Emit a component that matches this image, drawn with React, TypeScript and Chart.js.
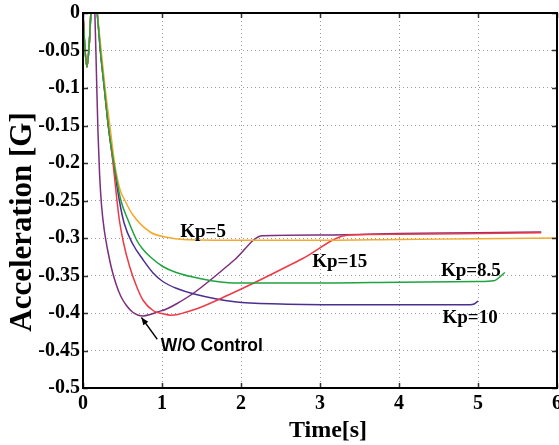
import React, { useEffect, useRef } from "react";
import { Chart, registerables } from "chart.js";

Chart.register(...registerables);

// Time [s] / Acceleration [G] series
const woControlT = [0, 0.02, 0.05, 0.08, 0.1, 0.125, 0.15, 0.17, 0.19, 0.21, 0.235, 0.27, 0.31, 0.36, 0.42, 0.48, 0.55, 0.63, 0.7, 0.76, 0.85, 0.93, 1.05, 1.18, 1.42, 1.92, 2.27, 3, 4, 5, 5.8];
const woControlA = [0, -0.04, -0.072, -0.04, 0, 0.04, 0, -0.08, -0.16, -0.215, -0.257, -0.29, -0.315, -0.34, -0.362, -0.378, -0.39, -0.399, -0.403, -0.404, -0.402, -0.399, -0.395, -0.388, -0.372, -0.329, -0.297, -0.296, -0.294, -0.293, -0.292];

const kp15T = [0, 0.02, 0.05, 0.08, 0.1, 0.14, 0.18, 0.22, 0.27, 0.32, 0.38, 0.43, 0.46, 0.51, 0.59, 0.68, 0.76, 0.89, 1.01, 1.11, 1.2, 1.3, 1.45, 1.84, 2.26, 2.77, 3.37, 4, 5, 5.8];
const kp15A = [0, -0.04, -0.072, -0.04, 0, 0.04, 0, -0.05, -0.1, -0.15, -0.2, -0.25, -0.276, -0.305, -0.338, -0.365, -0.383, -0.397, -0.401, -0.403, -0.402, -0.399, -0.394, -0.376, -0.355, -0.328, -0.296, -0.295, -0.294, -0.293];

const kp10T = [0, 0.02, 0.05, 0.08, 0.1, 0.14, 0.18, 0.22, 0.27, 0.32, 0.385, 0.46, 0.52, 0.63, 0.76, 0.89, 1.01, 1.18, 1.42, 1.92, 2.5, 3.5, 4.9, 4.95, 5.0];
const kp10A = [0, -0.04, -0.072, -0.04, 0, 0.04, 0, -0.05, -0.1, -0.15, -0.2, -0.25, -0.28, -0.308, -0.329, -0.347, -0.358, -0.367, -0.375, -0.385, -0.388, -0.389, -0.389, -0.388, -0.384];

const kp85T = [0, 0.02, 0.05, 0.08, 0.1, 0.14, 0.18, 0.22, 0.27, 0.32, 0.39, 0.48, 0.57, 0.68, 0.75, 0.85, 1.01, 1.18, 1.48, 1.92, 3, 4, 5, 5.2, 5.34];
const kp85A = [0, -0.04, -0.072, -0.04, 0, 0.04, 0, -0.05, -0.1, -0.15, -0.2, -0.25, -0.276, -0.303, -0.314, -0.325, -0.338, -0.346, -0.354, -0.36, -0.36, -0.359, -0.358, -0.357, -0.346];

const kp5T = [0, 0.02, 0.05, 0.08, 0.1, 0.14, 0.18, 0.23, 0.28, 0.34, 0.4, 0.47, 0.53, 0.63, 0.85, 1.06, 1.27, 2, 3, 4, 5, 6];
const kp5A = [0, -0.04, -0.072, -0.04, 0, 0.04, 0, -0.05, -0.1, -0.15, -0.2, -0.236, -0.25, -0.269, -0.292, -0.299, -0.302, -0.303, -0.303, -0.302, -0.301, -0.3];

const xTickValues = [0, 1, 2, 3, 4, 5, 6];
const yTickValues = [0, -0.05, -0.1, -0.15, -0.2, -0.25, -0.3, -0.35, -0.4, -0.45, -0.5];

const seriesNames = ["Kp=5", "Kp=8.5", "Kp=10", "Kp=15", "W/O Control"];

const toPoints = (t: number[], a: number[]) => t.map((x, i) => ({ x, y: a[i] }));

const SERIF = '"Liberation Serif", "Times New Roman", serif';
const SANS = '"Liberation Sans", Arial, sans-serif';

const overlayPlugin = {
  id: "overlay",
  afterDraw(chart: any) {
    const { ctx, chartArea: ca, scales } = chart;
    const xs = scales.x;
    const ys = scales.y;
    ctx.save();
    // inward tick marks on all four sides
    ctx.strokeStyle = "#333";
    ctx.lineWidth = 1.5;
    const tl = 5;
    xTickValues.forEach((v) => {
      const px = Math.round(xs.getPixelForValue(v)) + 0.5;
      ctx.beginPath();
      ctx.moveTo(px, ca.bottom);
      ctx.lineTo(px, ca.bottom - tl);
      ctx.moveTo(px, ca.top);
      ctx.lineTo(px, ca.top + tl);
      ctx.stroke();
    });
    yTickValues.forEach((v) => {
      const py = Math.round(ys.getPixelForValue(v)) + 0.5;
      ctx.beginPath();
      ctx.moveTo(ca.left, py);
      ctx.lineTo(ca.left + tl, py);
      ctx.moveTo(ca.right, py);
      ctx.lineTo(ca.right - tl, py);
      ctx.stroke();
    });
    // box
    ctx.strokeStyle = "#000";
    ctx.lineWidth = 2;
    ctx.strokeRect(ca.left, ca.top, ca.right - ca.left, ca.bottom - ca.top);

    // series annotations
    ctx.fillStyle = "#000";
    ctx.textAlign = "center";
    ctx.textBaseline = "middle";
    ctx.font = `bold 19px ${SERIF}`;
    const lab = (txt: string, t: number, a: number) =>
      ctx.fillText(txt, xs.getPixelForValue(t), ys.getPixelForValue(a));
    lab(seriesNames[0], 1.52, -0.292);
    lab(seriesNames[3], 3.25, -0.332);
    lab(seriesNames[1], 4.91, -0.344);
    lab(seriesNames[2], 4.9, -0.407);
    ctx.font = `bold 17.5px ${SANS}`;
    lab(seriesNames[4], 1.63, -0.444);

    // arrow for W/O Control
    const x1 = xs.getPixelForValue(0.94);
    const y1 = ys.getPixelForValue(-0.435);
    const x2 = xs.getPixelForValue(0.74);
    const y2 = ys.getPixelForValue(-0.406);
    ctx.strokeStyle = "#000";
    ctx.lineWidth = 1.3;
    ctx.beginPath();
    ctx.moveTo(x1, y1);
    ctx.lineTo(x2, y2);
    ctx.stroke();
    const ang = Math.atan2(y2 - y1, x2 - x1);
    const hl = 8;
    ctx.beginPath();
    ctx.moveTo(x2, y2);
    ctx.lineTo(x2 - hl * Math.cos(ang - 0.4), y2 - hl * Math.sin(ang - 0.4));
    ctx.lineTo(x2 - hl * Math.cos(ang + 0.4), y2 - hl * Math.sin(ang + 0.4));
    ctx.closePath();
    ctx.fillStyle = "#000";
    ctx.fill();

    // axis titles
    ctx.font = `bold 24px ${SERIF}`;
    ctx.textAlign = "center";
    ctx.textBaseline = "middle";
    ctx.fillText("Time[s]", (ca.left + ca.right) / 2 + 8, 431);
    ctx.save();
    ctx.translate(23, 222);
    ctx.rotate(-Math.PI / 2);
    ctx.font = `bold 31px ${SERIF}`;
    ctx.fillText("Acceleration [G]", 0, 0);
    ctx.restore();
    ctx.restore();
  },
};

export default function App() {
  const ref = useRef<HTMLCanvasElement | null>(null);
  useEffect(() => {
    if (!ref.current) return;
    const mk = (label: string, t: number[], a: number[], color: string) => ({
      label,
      data: toPoints(t, a),
      borderColor: color,
      backgroundColor: color,
      borderWidth: 1.5,
      pointRadius: 0,
      cubicInterpolationMode: "monotone" as const,
      clip: 0,
    });
    const tickFont = { family: SERIF, weight: "bold", size: 20 };
    const chart = new Chart(ref.current, {
      type: "line",
      data: {
        datasets: [
          mk(seriesNames[1], kp85T, kp85A, "#1FA33F"),
          mk(seriesNames[0], kp5T, kp5A, "#F2A92E"),
          mk(seriesNames[3], kp15T, kp15A, "#EE3A45"),
          mk(seriesNames[2], kp10T, kp10A, "#4A2F90"),
          mk(seriesNames[4], woControlT, woControlA, "#7A2E7C"),
        ],
      },
      options: {
        animation: false,
        responsive: false,
        events: [],
        layout: { padding: { top: 13, right: 2, left: 0, bottom: 0 } },
        plugins: { legend: { display: false }, tooltip: { enabled: false }, title: { display: false } },
        scales: {
          x: {
            type: "linear",
            min: 0,
            max: 6,
            afterBuildTicks: (s: any) => {
              s.ticks = xTickValues.map((v) => ({ value: v }));
            },
            ticks: {
              padding: 4,
              color: "#000",
              font: tickFont,
              callback: (v: any) => String(v),
              maxRotation: 0,
            },
            grid: { color: "#9a9a9a", lineWidth: 1, drawTicks: false },
            border: { display: false, dash: [1, 3] },
            afterFit: (s: any) => {
              s.height = 57;
              s.paddingLeft = 0;
              s.paddingRight = 0;
            },
          },
          y: {
            type: "linear",
            min: -0.5,
            max: 0,
            afterBuildTicks: (s: any) => {
              s.ticks = yTickValues.map((v) => ({ value: v }));
            },
            ticks: {
              padding: 3,
              color: "#000",
              font: tickFont,
              callback: (v: any) => String(Number(Number(v).toFixed(2))),
            },
            grid: { color: "#9a9a9a", lineWidth: 1, drawTicks: false },
            border: { display: false, dash: [1, 3] },
            afterFit: (s: any) => {
              s.width = 83;
              s.paddingTop = 0;
              s.paddingBottom = 0;
            },
          },
        },
      } as any,
      plugins: [overlayPlugin],
    });
    return () => chart.destroy();
  }, []);
  return (
    <div style={{ position: "absolute", left: 0, top: 0, width: 559, height: 445, background: "#fff" }}>
      <canvas ref={ref} width={559} height={445} style={{ display: "block", width: 559, height: 445 }} />
    </div>
  );
}
